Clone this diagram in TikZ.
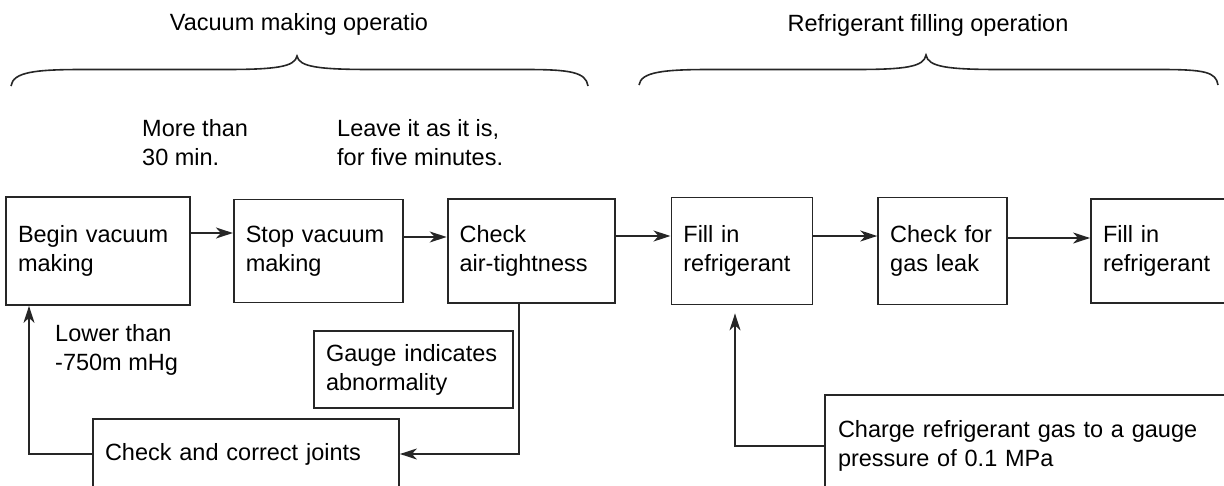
\documentclass[tikz,border=0pt]{standalone}
\usepackage{fontspec}
\setmainfont{Liberation Sans}
\usetikzlibrary{arrows.meta,positioning,calc}

\begin{document}
\begin{tikzpicture}[x=1pt, y=1pt,
  stepbox/.style={draw=black!85, line width=1.8pt, align=left, inner xsep=12pt, inner ysep=0pt, font=\fontsize{23.5}{29}\selectfont},
  arrow/.style={-{Stealth[length=17pt, width=11pt, inset=5pt]}, line width=1.7pt, draw=black!85},
  note/.style={align=left, inner sep=0pt, anchor=west, font=\fontsize{23.5}{29}\selectfont},
  phase/.style={inner sep=0pt, anchor=base, font=\fontsize{23.5}{29}\selectfont},
  bracecurve/.style={line width=1.6pt, draw=black!85}
]
\useasboundingbox (0,0) rectangle (1224,-485);
\clip (0,0) rectangle (1224,-485);

\node[phase] (t1) at (299,-30) {Vacuum making operatio};
\node[phase] (t2) at (928,-31) {Refrigerant filling operation};

\draw[bracecurve] (11,-86) .. controls (13,-72) and (35,-69.5) .. (83,-69.5) -- (225,-69.5)
  .. controls (275,-69.5) and (295,-67) .. (297,-56)
  .. controls (299,-67) and (319,-69.5) .. (372,-69.5) -- (525,-69.5)
  .. controls (570,-69.5) and (586,-72) .. (588,-86);
\draw[bracecurve] (639,-85) .. controls (641,-72) and (663,-69.5) .. (710,-69.5) -- (855,-69.5)
  .. controls (905,-69.5) and (924,-67) .. (926,-55)
  .. controls (928,-67) and (948,-69.5) .. (1000,-69.5) -- (1160,-69.5)
  .. controls (1205,-69.5) and (1216,-72) .. (1218,-85);

\node[note] (n1) at (142,-143) {More than\\30 min.};
\node[note] (n2) at (337,-143) {Leave it as it is,\\for five minutes.};
\node[note] (n3) at (55,-350) {Lower than\\-750m mHg};

\node[stepbox, text width=160pt, minimum width=184pt, minimum height=108pt] (b1) at (98,-251) {Begin vacuum\\making};
\node[stepbox, text width=145pt, minimum width=169pt, minimum height=103pt, right=42pt of b1] (b2) {Stop vacuum\\making};
\node[stepbox, text width=143pt, minimum width=167pt, minimum height=104pt, right=43pt of b2] (b3) {Check\\air-tightness};
\node[stepbox, text width=117pt, minimum width=141pt, minimum height=107pt, right=55pt of b3] (b4) {Fill in\\refrigerant};
\node[stepbox, text width=105pt, minimum width=129pt, minimum height=107pt, right=64pt of b4] (b5) {Check for\\gas leak};
\node[stepbox, text width=117pt, minimum width=141pt, minimum height=104pt, right=82pt of b5] (b6) {Fill in\\refrigerant};

\node[stepbox, text width=175pt, minimum width=199pt, minimum height=77pt] (gauge) at (413.5,-369.5) {Gauge indicates\\abnormality};
\node[stepbox, text width=282pt, minimum width=306pt, minimum height=70pt] (jnt) at (246,-454) {Check and correct joints};
\node[stepbox, text width=394pt, minimum width=420pt, minimum height=102pt, inner xsep=13pt] (chg) at (1035,-446) {Charge refrigerant gas to a gauge\\pressure of 0.1 MPa};

\draw[arrow] (b1.east |- 0,-233) -- (b2.west |- 0,-233);
\draw[arrow] (b2.east |- 0,-237) -- (b3.west |- 0,-237);
\draw[arrow] (b3.east |- 0,-236) -- (b4.west |- 0,-236);
\draw[arrow] (b4.east |- 0,-236) -- (b5.west |- 0,-236);
\draw[arrow] (b5.east |- 0,-238) -- (b6.west |- 0,-238);

\draw[arrow] (b3.south -| 519,0) |- (jnt.east);
\draw[arrow] (jnt.west) -| (b1.south -| 29,0);
\draw[arrow, shorten >=8pt] (chg.west) -| (b4.south -| 735,0);
\end{tikzpicture}
\end{document}
